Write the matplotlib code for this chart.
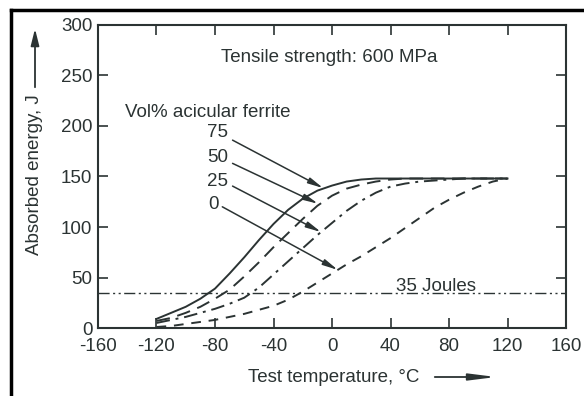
import matplotlib.pyplot as plt
from matplotlib.lines import Line2D
from matplotlib.patches import FancyArrowPatch

plt.rcParams['font.family'] = ['Liberation Sans', 'DejaVu Sans']
plt.rcParams['axes.unicode_minus'] = False

INK = '#2b3333'
FS = 13.5

# Test temperature, degC
temps = [-120, -110, -100, -90, -80, -70, -60, -50, -40, -30, -20, -10, 0,
         10, 20, 30, 40, 50, 60, 70, 80, 90, 100, 110, 120]

# Absorbed energy (J) per vol% acicular ferrite
energy_75 = [9, 15, 21, 29, 39, 54, 70, 87, 103, 117, 128, 136, 141,
             145, 147, 148, 148, 148, 148, 148, 148, 148, 148, 148, 148]
energy_50 = [7, 10, 15, 21, 29, 38, 51, 65, 80, 94, 108, 121, 131,
             138, 142, 145, 147, 148, 148, 148, 148, 148, 148, 148, 148]
energy_25 = [5, 8, 11, 15, 19, 24, 30, 40, 53, 66, 79, 92, 104,
             116, 126, 134, 140, 143, 145, 146, 147, 148, 148, 148, 148]
energy_0 = [1, 2, 4, 6, 8, 11, 14, 18, 22, 28, 36, 45, 54,
            63, 71, 80, 89, 99, 109, 119, 127, 134, 140, 145, 148]

ferrite_labels = ['75', '50', '25', '0']
# label position, arrow start, arrow tip (data coords)
label_pos = [(-78, 194), (-78, 169), (-78, 145.5), (-81, 122)]
arrow_start = [(-68, 186), (-68, 163), (-68, 140.5), (-75, 120)]
arrow_tip = [(-6, 138.5), (-9.5, 123), (-7.5, 95), (4, 57.5)]

joules_level = 35

fig = plt.figure(figsize=(5.84, 3.96), dpi=100)
ax = fig.add_axes([0.1678, 0.1717, 0.8014, 0.7652])

ax.plot(temps, energy_75, color=INK, lw=1.4, linestyle='-')
ax.plot(temps, energy_50, color=INK, lw=1.4, dashes=(7, 4))
ax.plot(temps, energy_25, color=INK, lw=1.4, dashes=(7, 3, 1.5, 3))
ax.plot(temps, energy_0, color=INK, lw=1.4, dashes=(5, 4))

# 35 J reference line
ax.axhline(joules_level, color=INK, lw=1.0, dashes=(8, 2.5, 1.5, 2.5, 1.5, 2.5))
ax.text(71, 41, '35 Joules', ha='center', va='center', fontsize=FS, color=INK)

# labels with arrows
ax.text(-85, 213, 'Vol% acicular ferrite', ha='center', va='center', fontsize=FS, color=INK)
for lab, lp, st, tip in zip(ferrite_labels, label_pos, arrow_start, arrow_tip):
    ax.text(lp[0], lp[1], lab, ha='center', va='center', fontsize=FS, color=INK)
    ax.annotate('', xy=tip, xytext=st,
                arrowprops=dict(arrowstyle='-|>,head_width=0.18,head_length=0.9',
                                color=INK, lw=1.1, shrinkA=0, shrinkB=0))

ax.text(-2, 268, 'Tensile strength: 600 MPa', ha='center', va='center', fontsize=FS, color=INK)

ax.set_xlim(-160, 160)
ax.set_ylim(0, 300)
ax.set_xticks(range(-160, 161, 40))
ax.set_yticks(range(0, 301, 50))
ax.tick_params(direction='in', length=7, width=1.2, top=True, right=True,
               labelsize=FS, colors=INK, pad=4)
ax.tick_params(axis='x', pad=7)
for sp in ax.spines.values():
    sp.set_linewidth(1.5)
    sp.set_color(INK)

# axis titles with arrows, as in the original figure
fig.text(35 / 584, 1 - 175 / 396, 'Absorbed energy, J', rotation=90,
         ha='center', va='center', fontsize=FS, color=INK)
fig.add_artist(FancyArrowPatch(
    (35 / 584, 1 - 90 / 396), (35 / 584, 1 - 26 / 396), transform=fig.transFigure,
    arrowstyle='-|>,head_width=0.25,head_length=1.0', color=INK, lw=1.3, mutation_scale=10))
fig.text(334 / 584, 1 - 377 / 396, 'Test temperature, °C',
         ha='center', va='center', fontsize=FS, color=INK)
fig.add_artist(FancyArrowPatch(
    (432 / 584, 1 - 377 / 396), (499 / 584, 1 - 377 / 396), transform=fig.transFigure,
    arrowstyle='-|>,head_width=0.2,head_length=1.6', color=INK, lw=1.3, mutation_scale=10))

# outer frame (top and left edges of the scanned page)
fig.add_artist(Line2D([11 / 584, 1], [1 - 10 / 396, 1 - 10 / 396], color='black', lw=2.5,
                      transform=fig.transFigure))
fig.add_artist(Line2D([11 / 584, 11 / 584], [0, 1 - 10 / 396], color='black', lw=2.5,
                      transform=fig.transFigure))

fig.savefig('out.png', dpi=100)
